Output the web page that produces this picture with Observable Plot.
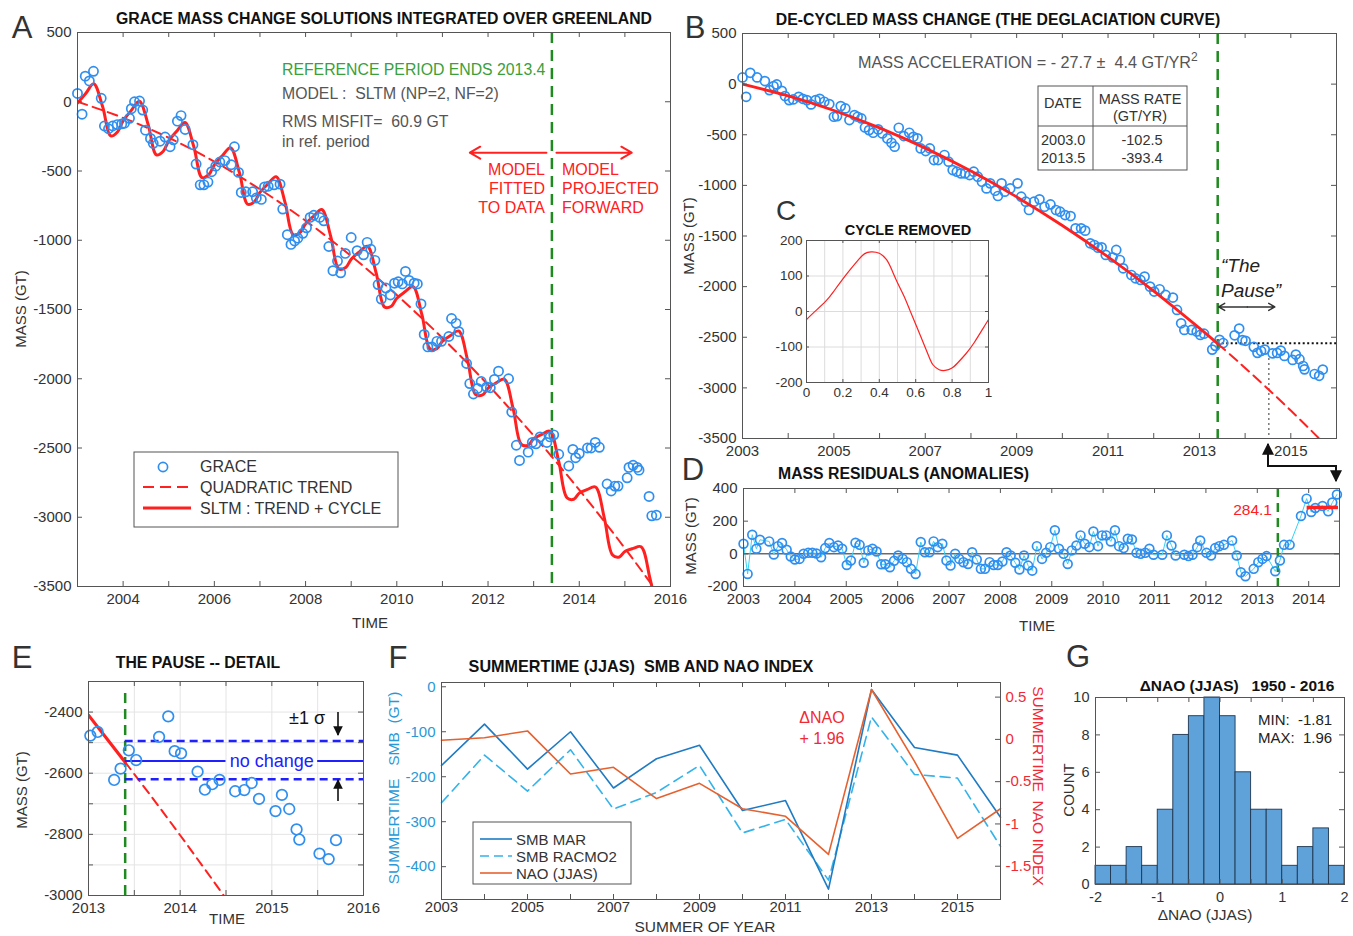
<!DOCTYPE html>
<html><head><meta charset="utf-8">
<script src="https://cdn.jsdelivr.net/npm/d3@7"></script>
<script src="https://cdn.jsdelivr.net/npm/@observablehq/plot@0.6"></script>
<style>
body{margin:0;background:#fff;}
#fig{position:relative;width:1353px;height:936px;overflow:hidden;font-family:"Liberation Sans",Arial,Helvetica,sans-serif;color:#222;background:#fff;}
.t{position:absolute;white-space:nowrap;line-height:1;}
</style></head><body><div id="fig"></div>
<script>
// ---------------- DATA ----------------
const refEnd = 2013.4;
const graceYears = [2003.0,2003.1,2003.17,2003.26,2003.35,2003.52,2003.59,2003.68,2003.77,2003.87,
2003.97,2004.03,2004.14,2004.18,2004.25,2004.36,2004.43,2004.49,2004.6,2004.66,
2004.81,2004.92,2005.03,2005.1,2005.19,2005.27,2005.36,2005.53,2005.6,2005.69,
2005.77,2005.86,2005.94,2006.03,2006.12,2006.23,2006.37,2006.44,2006.53,2006.59,
2006.69,2006.84,2006.92,2007.03,2007.1,2007.18,2007.31,2007.44,2007.5,2007.6,
2007.68,2007.76,2007.83,2007.94,2008.02,2008.1,2008.18,2008.31,2008.4,2008.51,
2008.6,2008.7,2008.77,2008.87,2009.0,2009.13,2009.27,2009.35,2009.43,2009.52,
2009.59,2009.66,2009.76,2009.86,2009.95,2010.03,2010.12,2010.19,2010.27,2010.38,
2010.45,2010.53,2010.6,2010.68,2010.77,2010.88,2010.98,2011.14,2011.2,2011.3,
2011.36,2011.53,2011.6,2011.68,2011.77,2011.85,2011.97,2012.05,2012.14,2012.23,
2012.45,2012.52,2012.62,2012.69,2012.88,2012.97,2013.05,2013.14,2013.29,2013.36,
2013.44,2013.55,2013.77,2013.86,2013.92,2014.0,2014.18,2014.26,2014.35,2014.44,
2014.61,2014.7,2014.78,2014.85,2015.05,2015.09,2015.18,2015.27,2015.31,2015.53,
2015.59,2015.69];
const graceMass = [60,-90,185,150,220,25,-175,-195,-175,-165,
-160,-155,-120,-50,0,5,-60,-205,-265,-300,
-285,-255,-325,-275,-140,-100,-200,-310,-450,-600,
-600,-580,-505,-465,-435,-425,-455,-325,-510,-655,
-650,-650,-695,-705,-615,-610,-600,-595,-775,-960,
-1030,-1005,-985,-950,-910,-835,-820,-835,-860,-1045,
-1220,-1150,-1235,-1095,-980,-1075,-1105,-1015,-1065,-1145,
-1320,-1425,-1345,-1395,-1310,-1300,-1315,-1225,-1290,-1310,
-1315,-1460,-1680,-1770,-1770,-1730,-1730,-1695,-1565,-1600,
-1660,-1890,-2035,-2110,-2070,-2020,-2060,-2065,-2005,-1945,
-2000,-2240,-2480,-2590,-2530,-2460,-2470,-2420,-2460,-2420,
-2405,-2545,-2630,-2510,-2570,-2540,-2500,-2500,-2460,-2495,
-2760,-2810,-2775,-2775,-2715,-2640,-2625,-2640,-2660,-2850,
-2990,-2985];

const trendYears = [2003,2004,2005,2006,2007,2008,2009,2010,2011,2012,2013,2013.4,2014,2015,2016];
const trendMass  = [0,-116,-260,-432,-632,-859,-1114,-1396,-1706,-2044,-2410,-2564,-2803,-3224,-3673];

// SLTM trend + cycle curve (panel A)
const sltmYears = [2003,2003.18,2003.355,2003.55,2003.73,2003.88,
2004,2004.18,2004.355,2004.55,2004.73,2004.88,
2005,2005.18,2005.355,2005.55,2005.73,2005.88,
2006,2006.18,2006.355,2006.55,2006.73,2006.88,
2007,2007.18,2007.355,2007.55,2007.73,2007.88,
2008,2008.18,2008.355,2008.55,2008.73,2008.88,
2009,2009.18,2009.355,2009.55,2009.73,2009.88,
2010,2010.18,2010.355,2010.55,2010.73,2010.88,
2011,2011.18,2011.355,2011.55,2011.73,2011.88,
2012,2012.18,2012.355,2012.55,2012.73,2012.88,
2013,2013.18,2013.355,2013.55,2013.73,2013.88,
2014,2014.18,2014.355,2014.55,2014.73,2014.88,
2015,2015.18,2015.355,2015.55,2015.73];
const sltmMass = [-10,59,130,-35,-247,-216,
-139,-62,4,-166,-384,-357,
-283,-211,-150,-325,-548,-525,
-455,-388,-332,-512,-740,-721,
-655,-592,-541,-727,-960,-945,
-882,-825,-778,-970,-1207,-1197,
-1137,-1084,-1043,-1240,-1482,-1476,
-1419,-1372,-1335,-1537,-1785,-1783,
-1729,-1687,-1655,-1863,-2115,-2117,
-2067,-2030,-2003,-2216,-2474,-2480,
-2433,-2401,-2379,-2597,-2859,-2870,
-2826,-2799,-2782,-3006,-3273,-3287,
-3247,-3225,-3213,-3442,-3714];

// de-cycled GRACE mass (panels B and E)
const decYears = [2003.0,2003.08,2003.17,2003.32,2003.49,2003.59,2003.68,2003.75,2003.86,2003.93,
2004.02,2004.11,2004.23,2004.32,2004.41,2004.5,2004.6,2004.69,2004.79,2004.9,
2005.0,2005.07,2005.15,2005.25,2005.34,2005.45,2005.52,2005.6,2005.68,2005.77,
2005.86,2005.97,2006.06,2006.17,2006.26,2006.33,2006.42,2006.53,2006.65,2006.74,
2006.83,2006.9,2007.01,2007.1,2007.19,2007.28,2007.42,2007.51,2007.6,2007.69,
2007.78,2007.87,2007.97,2008.06,2008.15,2008.24,2008.34,2008.42,2008.53,2008.59,
2008.67,2008.74,2008.86,2009.02,2009.1,2009.2,2009.27,2009.38,2009.5,2009.61,
2009.74,2009.86,2009.95,2010.06,2010.18,2010.29,2010.41,2010.5,2010.61,2010.7,
2010.78,2010.86,2010.95,2011.1,2011.18,2011.26,2011.33,2011.51,2011.6,2011.71,
2011.8,2011.92,2012.01,2012.13,2012.26,2012.42,2012.51,2012.6,2012.67,2012.83,
2012.94,
2013.02,2013.1,2013.28,2013.35,2013.44,2013.52,2013.77,2013.87,2013.94,2014.01,
2014.19,2014.27,2014.35,2014.43,2014.6,2014.7,2014.78,2014.86,2015.04,2015.11,
2015.19,2015.27,2015.3,2015.52,2015.62,2015.7];
const decMass = [66,-125,112,66,30,-59,-20,-3,-66,-118,
-158,-151,-125,-145,-158,-200,-158,-145,-174,-197,
-322,-316,-217,-240,-355,-306,-322,-339,-428,-454,
-480,-447,-487,-536,-579,-618,-431,-513,-480,-520,
-536,-635,-661,-635,-750,-750,-700,-766,-849,-865,
-882,-882,-898,-865,-914,-964,-1030,-980,-1053,-1105,
-980,-1062,-1030,-980,-1112,-1161,-1243,-1161,-1138,-1211,
-1188,-1243,-1260,-1293,-1303,-1424,-1424,-1447,-1572,-1589,
-1615,-1612,-1687,-1711,-1638,-1737,-1819,-1885,-1918,-1934,
-1901,-2000,-2049,-2026,-2082,-2108,-2230,-2362,-2428,-2428,
-2444,
-2477,-2465,-2622,-2585,-2525,-2557,-2481,-2414,-2528,-2535,
-2595,-2654,-2636,-2622,-2659,-2655,-2632,-2684,-2724,-2671,
-2717,-2784,-2817,-2863,-2881,-2819];

// panel C: removed annual cycle
const cyclePhase = [0,0.038,0.106,0.15,0.197,0.24,0.287,0.32,0.355,0.40,
0.44,0.468,0.50,0.536,0.57,0.604,0.64,0.672,0.695,0.729,
0.762,0.797,0.83,0.876,0.921,0.966,1.0];
const cycleValue = [-23,-4,29,57,90,118,147,163,168,164,
146,118,81,43,1,-41,-86,-126,-150,-164,
-166,-160,-145,-119,-88,-51,-23];

// panel D: residuals
const resYears = [2003.0,2003.08,2003.17,2003.25,2003.32,2003.5,2003.59,2003.67,2003.75,2003.84,
2003.92,2004.0,2004.09,2004.17,2004.26,2004.34,2004.42,2004.51,2004.59,2004.67,
2004.76,2004.84,2004.92,2005.01,2005.09,2005.18,2005.26,2005.34,2005.43,2005.51,
2005.59,2005.68,2005.76,2005.85,2005.93,2006.01,2006.1,2006.18,2006.26,2006.35,
2006.45,2006.53,2006.62,2006.7,2006.78,2006.87,2006.95,2007.03,2007.12,2007.2,
2007.28,2007.37,2007.45,2007.54,2007.62,2007.7,2007.79,2007.87,2007.95,2008.04,
2008.12,2008.2,2008.29,2008.37,2008.46,2008.54,2008.62,2008.71,2008.81,2008.89,
2008.97,2009.06,2009.14,2009.23,2009.31,2009.39,2009.48,2009.56,2009.64,2009.73,
2009.81,2009.9,2009.98,2010.06,2010.15,2010.23,2010.31,2010.4,2010.48,2010.56,
2010.65,2010.73,2010.82,2010.9,2010.98,2011.15,2011.24,2011.33,2011.41,2011.58,
2011.66,2011.74,2011.83,2011.89,2012.01,2012.1,2012.18,2012.26,2012.35,2012.51,
2012.6,2012.68,2012.77,2012.93,2013.02,2013.1,2013.18,2013.35,2013.44,2013.52,
2013.63,2013.85,2013.96,2014.05,2014.13,2014.27,2014.38,2014.46,2014.55];
const resMass = [62,-123,117,31,86,76,-4,47,66,25,
-16,-35,-31,0,6,6,2,-21,35,66,
41,51,31,-68,-41,68,55,-55,21,31,
14,-64,-64,-82,-43,-10,-31,-51,-92,-123,
72,10,10,76,41,62,-41,-72,0,-31,
-51,-62,10,-35,-92,-92,-51,-68,-68,-47,
10,-10,-55,-96,-10,-72,-103,47,-31,6,
41,144,31,0,-62,21,51,113,62,41,
137,47,113,113,76,144,47,35,92,88,
6,0,6,31,-6,-6,113,51,-10,-6,
-14,-6,41,82,6,-10,35,47,55,82,
-10,-113,-137,-92,-51,-31,-14,-107,-41,55,
55,232,338,256,281,293,260,314,363];
const pauseAnomaly = 284.1;
const pauseLevel = -2560;
const sigmaUpper = -2495, sigmaLower = -2620;

// panel F
const smbYears = [2003,2004,2005,2006,2007,2008,2009,2010,2011,2012,2013,2014,2015,2016];
const smbMar   = [-175,-83,-183,-100,-225,-160,-130,-275,-253,-450,-6,-135,-152,-290];
const smbRacmo = [-258,-152,-232,-140,-272,-235,-175,-325,-295,-430,-67,-195,-203,-355];
const naoJjas  = [-0.01,0.02,0.10,-0.41,-0.33,-0.70,-0.52,-0.82,-0.91,-1.36,0.59,-0.26,-1.17,-0.82];

// panel G
const histEdges  = [-2,-1.75,-1.5,-1.25,-1,-0.75,-0.5,-0.25,0,0.25,0.5,0.75,1,1.25,1.5,1.75];
const histWidth  = 0.25;
const histCounts = [1,1,2,1,4,8,9,10,9,6,4,4,1,2,3,1];

// ---------------- HELPERS ----------------
const FONT = '"Liberation Sans", Arial, Helvetica, sans-serif';
const RED="#ff2020", GREEN="#1f8a1f", BLUE="#2f8ff0", CYAN="#35d3f3", FR="#555";
const fig = document.getElementById("fig");
const style = (fs=15)=>({background:"transparent", overflow:"visible", fontFamily:FONT, fontSize:fs+"px", color:"#333"});
function rows(xs, ys){ const n=Math.min(xs.length, ys.length); return d3.range(n).map(i=>({x:xs[i], y:ys[i]})); }
function put(svg, l, t){ svg.style.position="absolute"; svg.style.left=l+"px"; svg.style.top=t+"px"; fig.appendChild(svg); }
function box(xd, yd, w, h, xt, yt, ytR, len=5){
  const dx=(xd[1]-xd[0])*len/w, dy=(yd[1]-yd[0])*len/h;
  return [
    Plot.ruleX(xt,{x:d=>d, y1:yd[0], y2:yd[0]+dy, stroke:FR}),
    Plot.ruleX(xt,{x:d=>d, y1:yd[1]-dy, y2:yd[1], stroke:FR}),
    Plot.ruleY(yt,{y:d=>d, x1:xd[0], x2:xd[0]+dx, stroke:FR}),
    Plot.ruleY(ytR||yt,{y:d=>d, x1:xd[1]-dx, x2:xd[1], stroke:FR}),
    Plot.frame({stroke:FR})
  ];
}
const fmt = d=>String(d);
function axX(t, o={}){ return Plot.axisX(t, Object.assign({anchor:"bottom", tickSize:0, tickPadding:7, tickFormat:fmt, label:null}, o)); }
function axY(t, o={}){ return Plot.axisY(t, Object.assign({anchor:"left", tickSize:0, tickPadding:6, tickFormat:fmt, label:null}, o)); }
function T(str, x, y, o={}){
  const d=document.createElement("div"); d.className="t"; d.innerHTML=str;
  const a=o.anchor||"middle"; const tx=a==="start"?"0":a==="end"?"-100%":"-50%";
  d.style.left=x+"px"; d.style.top=y+"px"; d.style.fontSize=(o.size||15)+"px";
  d.style.fontWeight=o.bold?"bold":"normal"; d.style.color=o.color||"#333";
  if(o.italic) d.style.fontStyle="italic";
  if(o.family) d.style.fontFamily=o.family;
  d.style.transform = o.rotate ? `translate(-50%,-50%) rotate(${o.rotate}deg)` : `translate(${tx},-50%)`;
  fig.appendChild(d);
}
const trendRows = rows(trendYears, trendMass);
const yrs = (a,b,s=1)=>d3.range(a,b+1e-9,s).map(v=>Math.round(v*100)/100);

// ---------------- PANEL A ----------------
{
  const xd=[2003,2016], yd=[-3500,500];
  const p = Plot.plot({width:663, height:594, marginLeft:60, marginRight:10, marginTop:10, marginBottom:30,
    x:{domain:xd}, y:{domain:yd}, style:style(15),
    marks:[
      Plot.ruleX([refEnd],{stroke:GREEN, strokeWidth:2.5, strokeDasharray:"11,7"}),
      Plot.line(trendRows,{x:"x", y:"y", stroke:RED, strokeWidth:2, strokeDasharray:"10,6", curve:"natural", clip:true}),
      Plot.line(rows(sltmYears, sltmMass),{x:"x", y:"y", stroke:RED, strokeWidth:3, curve:"catmull-rom", clip:true}),
      Plot.dot(rows(graceYears, graceMass),{x:"x", y:"y", r:4.6, stroke:BLUE, strokeWidth:1.7}),
      Plot.arrow([{x1:2013.28, x2:2011.6, y:-368},{x1:2013.5, x2:2015.15, y:-368}],
        {x1:"x1", x2:"x2", y1:"y", y2:"y", stroke:RED, strokeWidth:2, headLength:9}),
      ...box(xd, yd, 593, 554, yrs(2004,2015), yrs(-3500,500,500)),
      axX(yrs(2004,2016,2)), axY(yrs(-3500,500,500))
    ]});
  put(p, 17, 22);
}
// ---------------- PANEL B ----------------
{
  const xd=[2003,2016], yd=[-3500,500];
  const solid = trendRows.filter(d=>d.x<=refEnd), dashed = trendRows.filter(d=>d.x>=refEnd);
  const p = Plot.plot({width:664, height:445, marginLeft:60, marginRight:10, marginTop:10, marginBottom:30,
    x:{domain:xd}, y:{domain:yd}, style:style(15),
    marks:[
      Plot.ruleX([refEnd],{stroke:GREEN, strokeWidth:2.5, strokeDasharray:"11,7"}),
      Plot.ruleY([pauseLevel],{x1:refEnd, x2:2016, stroke:"#111", strokeWidth:2, strokeDasharray:"2,2.5"}),
      Plot.ruleX([2014.52],{y1:-2710, y2:-3500, stroke:"#333", strokeWidth:1, strokeDasharray:"2,3"}),
      Plot.dot(rows(decYears, decMass),{x:"x", y:"y", r:4.5, stroke:BLUE, strokeWidth:1.7}),
      Plot.line(solid,{x:"x", y:"y", stroke:RED, strokeWidth:2.8, curve:"natural", clip:true}),
      Plot.line(dashed,{x:"x", y:"y", stroke:RED, strokeWidth:2, strokeDasharray:"10,6", curve:"natural", clip:true}),
      Plot.arrow([{x1:2014.05, x2:2013.42},{x1:2014.05, x2:2014.65}],
        {x1:"x1", x2:"x2", y1:()=>-2200, y2:()=>-2200, stroke:"#333", strokeWidth:1.5, headLength:7}),
      ...box(xd, yd, 594, 405, yrs(2004,2015), yrs(-3500,500,500)),
      axX(yrs(2003,2015,2)), axY(yrs(-3500,500,500))
    ]});
  put(p, 682, 23);
}
// ---------------- PANEL C ----------------
{
  const xd=[0,1], yd=[-200,200];
  const p = Plot.plot({width:232, height:177, marginLeft:40, marginRight:10, marginTop:10, marginBottom:25,
    x:{domain:xd}, y:{domain:yd}, style:style(13.5),
    marks:[
      Plot.frame({fill:"white"}),
      Plot.ruleX([0.1,0.2,0.3,0.4,0.5,0.6,0.7,0.8,0.9],{stroke:"#dcdcdc"}),
      Plot.ruleY([-100,0,100],{stroke:"#dcdcdc"}),
      Plot.line(rows(cyclePhase, cycleValue),{x:"x", y:"y", stroke:RED, strokeWidth:1.2, curve:"natural"}),
      ...box(xd, yd, 182, 142, [0.2,0.4,0.6,0.8], [-100,0,100], null, 3),
      axX([0,0.2,0.4,0.6,0.8,1],{tickPadding:5}), axY([-200,-100,0,100,200],{tickPadding:4})
    ]});
  put(p, 766, 230);
}
// ---------------- PANEL D ----------------
{
  const xd=[2003,2014.6], yd=[-200,400];
  const p = Plot.plot({width:666, height:138, marginLeft:60, marginRight:10, marginTop:10, marginBottom:30,
    x:{domain:xd}, y:{domain:yd}, style:style(15),
    marks:[
      Plot.ruleY([0],{stroke:"#222", strokeWidth:1}),
      Plot.ruleX([refEnd],{stroke:GREEN, strokeWidth:2.5, strokeDasharray:"9,6"}),
      Plot.line(rows(resYears, resMass),{x:"x", y:"y", stroke:CYAN, strokeWidth:1}),
      Plot.dot(rows(resYears, resMass),{x:"x", y:"y", r:4.4, stroke:BLUE, strokeWidth:1.7}),
      Plot.ruleY([pauseAnomaly],{x1:2013.97, x2:2014.58, stroke:RED, strokeWidth:3.5}),
      ...box(xd, yd, 596, 98, yrs(2004,2014), [0,200]),
      axX(yrs(2003,2014)), axY([-200,0,200,400])
    ]});
  put(p, 683, 478);
}
// ---------------- PANEL E ----------------
{
  const xd=[2013,2016], yd=[-3000,-2300];
  const BL="#2020ff";
  const p = Plot.plot({width:345, height:254, marginLeft:60, marginRight:10, marginTop:10, marginBottom:30,
    x:{domain:xd}, y:{domain:yd}, style:style(15),
    marks:[
      Plot.ruleX(yrs(2013.5,2015.5,0.5),{stroke:"#e4e4e4"}),
      Plot.ruleY(yrs(-2900,-2400,100),{stroke:"#e4e4e4"}),
      Plot.ruleX([refEnd],{y1:-3000, y2:-2320, stroke:GREEN, strokeWidth:2.5, strokeDasharray:"10,6"}),
      Plot.line(trendRows.filter(d=>d.x<=refEnd && d.x>=2013),{x:"x", y:"y", stroke:RED, strokeWidth:3.2, clip:true}),
      Plot.line(trendRows.filter(d=>d.x>=refEnd),{x:"x", y:"y", stroke:RED, strokeWidth:2, strokeDasharray:"9,6", curve:"natural", clip:true}),
      Plot.ruleY([sigmaUpper, sigmaLower],{x1:refEnd, x2:2016, stroke:BL, strokeWidth:2.5, strokeDasharray:"8,5"}),
      Plot.ruleY([pauseLevel],{x1:refEnd, x2:2014.5, stroke:BL, strokeWidth:2.2}),
      Plot.ruleY([pauseLevel],{x1:2015.5, x2:2016, stroke:BL, strokeWidth:2.2}),
      Plot.text(["no change"],{x:()=>2015.0, y:()=>pauseLevel, text:d=>d, fill:BL, fontSize:18}),
      Plot.dot(rows(decYears, decMass).filter(d=>d.x>=2013),{x:"x", y:"y", r:5.3, stroke:BLUE, strokeWidth:1.7}),
      ...box(xd, yd, 275, 214, yrs(2013.5,2015.5,0.5), yrs(-2900,-2400,100)),
      axX([2013,2014,2015,2016]), axY([-3000,-2800,-2600,-2400])
    ]});
  put(p, 28, 671);
}
// ---------------- PANEL F ----------------
{
  const xd=[2003,2016], yd=[-473,9.5];
  const nao2smb = v => -117 + 188*v;
  const naoTicks = [-1.5,-1,-0.5,0,0.5];
  const SMBC="#2a98d6", NAOC="#f02a35";
  const p = Plot.plot({width:669, height:257, marginLeft:60, marginRight:50, marginTop:10, marginBottom:30,
    x:{domain:xd}, y:{domain:yd}, style:style(15),
    marks:[
      Plot.line(rows(smbYears, smbRacmo),{x:"x", y:"y", stroke:"#33b3ea", strokeWidth:1.6, strokeDasharray:"10,6"}),
      Plot.line(rows(smbYears, smbMar),{x:"x", y:"y", stroke:"#1f7bc3", strokeWidth:1.6}),
      Plot.line(rows(smbYears, naoJjas.map(nao2smb)),{x:"x", y:"y", stroke:"#e5612f", strokeWidth:1.6}),
      ...box(xd, yd, 559, 217, yrs(2004,2015), [-400,-300,-200,-100,0], naoTicks.map(nao2smb)),
      axX(yrs(2003,2015,2),{tickPadding:2}),
      axY([-400,-300,-200,-100,0],{color:SMBC}),
      Plot.axisY(naoTicks.map(nao2smb),{anchor:"right", tickSize:0, tickPadding:5, label:null, color:NAOC,
        tickFormat:d=>String(Math.round((d+117)/188*10)/10)})
    ]});
  put(p, 381, 672);
}
// ---------------- PANEL G ----------------
{
  const xd=[-2,2], yd=[0,10];
  const bars = histCounts.map((c,i)=>({x1:histEdges[i], x2:histEdges[i]+histWidth, y:c}));
  const p = Plot.plot({width:298, height:227, marginLeft:40, marginRight:9, marginTop:10, marginBottom:30,
    x:{domain:xd}, y:{domain:yd}, style:style(14.5),
    marks:[
      Plot.rectY(bars,{x1:"x1", x2:"x2", y:"y", fill:"#5fa2d9", stroke:"#1e3650", strokeWidth:0.9}),
      ...box(xd, yd, 249, 187, [-1.5,-1,-0.5,0,0.5,1,1.5], [2,4,6,8]),
      axX([-2,-1,0,1,2]), axY([0,2,4,6,8,10])
    ]});
  put(p, 1055, 687);
}

// ---------------- OVERLAY (legends, table, connector arrows) ----------------
const ov = `
<svg width="1353" height="936" style="position:absolute;left:0;top:0" font-family='${FONT}'>
<defs><marker id="ah" viewBox="0 0 10 10" refX="9" refY="5" markerWidth="6" markerHeight="6" orient="auto-start-reverse"><path d="M0,0L10,5L0,10z" fill="#111"/></marker></defs>
<rect x="134" y="452" width="264" height="75" fill="white" stroke="${FR}"/>
<circle cx="163" cy="467" r="4.6" fill="none" stroke="${BLUE}" stroke-width="1.7"/>
<text x="200" y="472" font-size="16" fill="#333">GRACE</text>
<line x1="143" x2="191" y1="487" y2="487" stroke="${RED}" stroke-width="2.2" stroke-dasharray="11,6"/>
<text x="200" y="492.5" font-size="16" fill="#333">QUADRATIC TREND</text>
<line x1="143" x2="191" y1="508" y2="508" stroke="${RED}" stroke-width="3"/>
<text x="200" y="513.5" font-size="16" fill="#333">SLTM : TREND + CYCLE</text>

<rect x="1038" y="86" width="149" height="84" fill="white" stroke="${FR}"/>
<line x1="1093" x2="1093" y1="86" y2="170" stroke="${FR}"/>
<line x1="1038" x2="1187" y1="126" y2="126" stroke="${FR}"/>
<g font-size="14.5" fill="#333">
<text x="1044" y="108">DATE</text>
<text x="1140" y="104" text-anchor="middle">MASS RATE</text>
<text x="1140" y="121" text-anchor="middle">(GT/YR)</text>
<text x="1041" y="145">2003.0</text><text x="1142" y="145" text-anchor="middle">-102.5</text>
<text x="1041" y="163">2013.5</text><text x="1142" y="163" text-anchor="middle">-393.4</text>
</g>

<polyline points="1268,444 1268,466 1336,466 1336,481" fill="none" stroke="#111" stroke-width="2" marker-start="url(#ah)" marker-end="url(#ah)"/>

<line x1="338" x2="338" y1="712" y2="735" stroke="#111" stroke-width="1.6" marker-end="url(#ah)"/>
<line x1="338" x2="338" y1="801" y2="780" stroke="#111" stroke-width="1.6" marker-end="url(#ah)"/>

<rect x="473" y="822" width="158" height="62" fill="white" stroke="${FR}"/>
<line x1="480" x2="512" y1="839" y2="839" stroke="#1f7bc3" stroke-width="1.6"/>
<line x1="480" x2="512" y1="856" y2="856" stroke="#33b3ea" stroke-width="1.6" stroke-dasharray="9,5"/>
<line x1="480" x2="512" y1="873" y2="873" stroke="#e5612f" stroke-width="1.6"/>
<g font-size="15" fill="#333">
<text x="516" y="844.5">SMB MAR</text>
<text x="516" y="861.5">SMB RACMO2</text>
<text x="516" y="878.5">NAO (JJAS)</text>
</g>
</svg>`;
fig.insertAdjacentHTML("beforeend", ov);

// ---------------- TEXT ----------------
// Panel letters
T("A", 22, 27, {size:31}); T("B", 695, 27, {size:31}); T("C", 786, 211, {size:28});
T("D", 693, 469, {size:31}); T("E", 22, 657, {size:31}); T("F", 398, 657, {size:31}); T("G", 1078, 656, {size:31});
// Panel A
T("GRACE MASS CHANGE SOLUTIONS INTEGRATED OVER GREENLAND", 384, 19, {bold:true, size:15.8, color:"#111"});
T("REFERENCE PERIOD ENDS 2013.4", 282, 70, {anchor:"start", size:15.8, color:"#3aa03a"});
T("MODEL :&nbsp; SLTM (NP=2, NF=2)", 282, 94, {anchor:"start", size:15.8, color:"#555"});
T("RMS MISFIT=&nbsp; 60.9 GT", 282, 122, {anchor:"start", size:15.8, color:"#555"});
T("in ref. period", 282, 142, {anchor:"start", size:15.8, color:"#555"});
[["MODEL",170],["FITTED",189],["TO DATA",208]].forEach(([s,y])=>T(s,545,y,{anchor:"end", size:16, color:RED}));
[["MODEL",170],["PROJECTED",189],["FORWARD",208]].forEach(([s,y])=>T(s,562,y,{anchor:"start", size:16, color:RED}));
T("MASS (GT)", 20, 309, {rotate:-90, size:15});
T("TIME", 370, 622, {size:15});
// Panel B
T("DE-CYCLED MASS CHANGE (THE DEGLACIATION CURVE)", 998, 20, {bold:true, size:15.8, color:"#111"});
T("MASS ACCELERATION = - 27.7 &plusmn;&nbsp; 4.4 GT/YR<sup style='font-size:12px;vertical-align:7px'>2</sup>", 858, 61, {anchor:"start", size:16.2, color:"#555"});
T("MASS (GT)", 688, 236, {rotate:-90, size:15});
T("CYCLE REMOVED", 908, 230, {bold:true, size:14.5, color:"#111"});
T("&ldquo;The", 1221, 265, {anchor:"start", size:19, italic:true, color:"#222"});
T("Pause&rdquo;", 1221, 290, {anchor:"start", size:19, italic:true, color:"#222"});
// Panel D
T("MASS RESIDUALS (ANOMALIES)", 778, 474, {anchor:"start", bold:true, size:15.8, color:"#111"});
T("MASS (GT)", 690, 536, {rotate:-90, size:15});
T("284.1", 1272, 510, {anchor:"end", size:15.5, color:RED});
T("TIME", 1037, 625, {size:15});
// Panel E
T("THE PAUSE -- DETAIL", 198, 663, {bold:true, size:15.8, color:"#111"});
T("MASS (GT)", 21, 790, {rotate:-90, size:15});
T("TIME", 227, 918, {size:15});
T("&plusmn;1 &sigma;", 307, 718, {size:18, color:"#111"});
// Panel F
T("SUMMERTIME (JJAS)&nbsp; SMB AND NAO INDEX", 641, 666, {bold:true, size:16.2, color:"#111"});
T("SUMMERTIME&nbsp;&nbsp; SMB&nbsp; (GT)", 394, 788, {rotate:-90, size:15.5, color:"#2a98d6"});
T("SUMMERTIME&nbsp; NAO INDEX", 1038, 786, {rotate:90, size:15.5, color:"#f02a35"});
T("&Delta;NAO", 822, 718, {size:16, color:"#f02a35"});
T("+ 1.96", 822, 739, {size:16, color:"#f02a35"});
T("SUMMER OF YEAR", 705, 927, {size:15.5});
// Panel G
T("&Delta;NAO (JJAS)&nbsp;&nbsp; 1950 - 2016", 1237, 686, {bold:true, size:15.5, color:"#111"});
T("MIN:&nbsp; -1.81", 1258, 719, {anchor:"start", size:15, color:"#222"});
T("MAX:&nbsp; 1.96", 1258, 737, {anchor:"start", size:15, color:"#222"});
T("COUNT", 1068, 790, {rotate:-90, size:15});
T("&Delta;NAO (JJAS)", 1205, 915, {size:15.5});
</script></body></html>
